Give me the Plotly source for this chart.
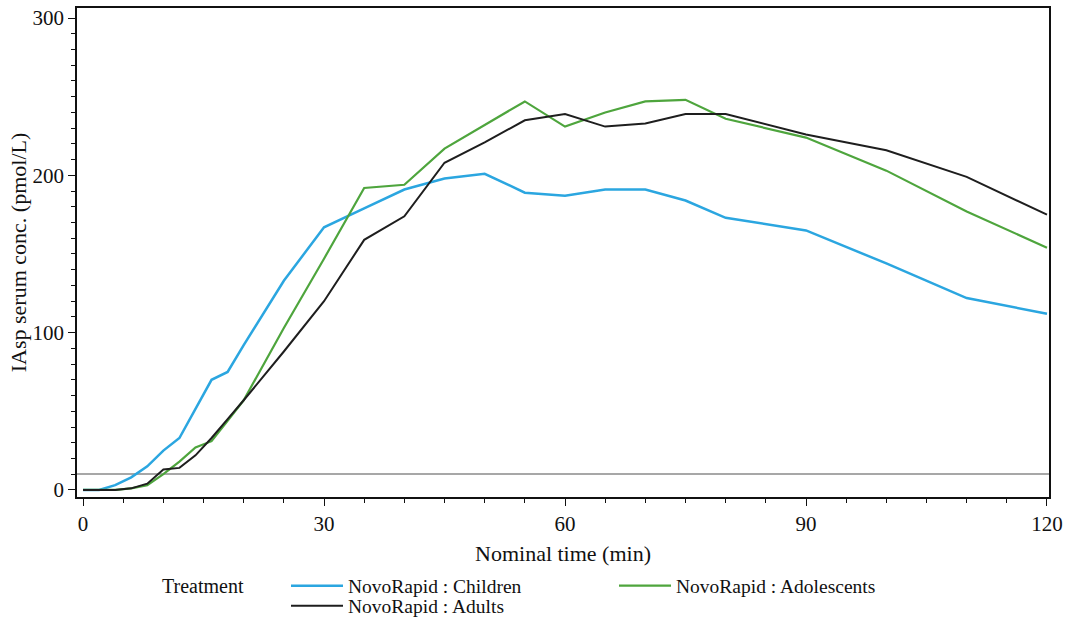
import plotly.graph_objects as go

# Nominal sampling times (min)
time_min = [0, 2, 4, 6, 8, 10, 12, 14, 16, 18, 20, 25, 30, 35, 40, 45, 50,
            55, 60, 65, 70, 75, 80, 90, 100, 110, 120]

# Mean IAsp serum concentration (pmol/L) per age group
children = [0, 0, 3, 8, 15, 25, 33, 52, 70, 75, 92, 133, 167, 179, 191, 198,
            201, 189, 187, 191, 191, 184, 173, 165, 144, 122, 112]
adolescents = [0, 0, 0, 1, 3, 10, 18, 27, 31, 44, 57, 103, 147, 192, 194, 217,
               232, 247, 231, 240, 247, 248, 236, 224, 203, 177, 154]
adults = [0, 0, 0, 1, 4, 13, 14, 22, 33, 45, 57, 88, 120, 159, 174, 208,
          221, 235, 239, 231, 233, 239, 239, 226, 216, 199, 175]

# Lower limit of quantification (pmol/L)
LLOQ = 10.2

x_ticks = [0, 30, 60, 90, 120]
y_ticks = [0, 100, 200, 300]

SERIF = "Liberation Serif, Times New Roman, serif"
W, H = 1065, 617
ML, MR, MT, MB = 77, 16, 8, 120
PW, PH = W - ML - MR, H - MT - MB


def px_x(p):
    return (p - ML) / PW


def px_y(q):
    return (H - MB - q) / PH


fig = go.Figure()
fig.add_trace(go.Scatter(x=time_min, y=children, mode="lines",
                         name="NovoRapid : Children", legend="legend",
                         line=dict(color="#2ba6e0", width=2.5)))
fig.add_trace(go.Scatter(x=time_min, y=adolescents, mode="lines",
                         name="NovoRapid : Adolescents", legend="legend2",
                         line=dict(color="#4ea53d", width=2.2)))
fig.add_trace(go.Scatter(x=time_min, y=adults, mode="lines",
                         name="NovoRapid : Adults", legend="legend3",
                         line=dict(color="#1e1e1e", width=2)))

fig.add_shape(type="line", xref="paper", yref="y", x0=0, x1=1,
              y0=LLOQ, y1=LLOQ, line=dict(color="#8a8a8a", width=1.5),
              layer="below")

legend_style = dict(orientation="h", xanchor="left", yanchor="middle",
                    bgcolor="rgba(0,0,0,0)", borderwidth=0, itemwidth=52,
                    font=dict(family=SERIF, size=19.5, color="#111"))

fig.update_layout(
    width=W, height=H,
    margin=dict(l=ML, r=MR, t=MT, b=MB, autoexpand=False),
    paper_bgcolor="white", plot_bgcolor="white",
    font=dict(family=SERIF, color="#111"),
    showlegend=True,
    legend=dict(x=px_x(286), y=px_y(586), **legend_style),
    legend2=dict(x=px_x(614), y=px_y(586), **legend_style),
    legend3=dict(x=px_x(286), y=px_y(606), **legend_style),
    annotations=[dict(text="Treatment", xref="paper", yref="paper",
                      x=px_x(160), y=px_y(586), xanchor="left",
                      yanchor="middle", showarrow=False,
                      font=dict(family=SERIF, size=20, color="#111"))],
)

fig.update_xaxes(
    range=[-0.75, 120.25], tickvals=x_ticks, ticks="outside", ticklen=7,
    tickwidth=1.2, tickcolor="#111", automargin=False,
    minor=dict(dtick=5, tick0=0, ticks="outside", ticklen=4,
               tickcolor="#111", tickwidth=1.2),
    showline=True, linecolor="#111", linewidth=1.5, mirror=True,
    showgrid=False, zeroline=False,
    tickfont=dict(family=SERIF, size=21, color="#111"),
    title=dict(text="Nominal time (min)", standoff=11,
               font=dict(family=SERIF, size=22, color="#111")),
)
fig.update_yaxes(
    range=[-4.5, 306.4], tickvals=y_ticks, ticks="outside", ticklen=7,
    tickwidth=1.2, tickcolor="#111", automargin=False,
    minor=dict(dtick=10, tick0=0, ticks="outside", ticklen=4,
               tickcolor="#111", tickwidth=1.2),
    showline=True, linecolor="#111", linewidth=1.5, mirror=True,
    showgrid=False, zeroline=False,
    tickfont=dict(family=SERIF, size=21, color="#111"),
    title=dict(text="IAsp serum conc. (pmol/L)", standoff=0,
               font=dict(family=SERIF, size=22, color="#111")),
)

fig.write_html("out.html")
